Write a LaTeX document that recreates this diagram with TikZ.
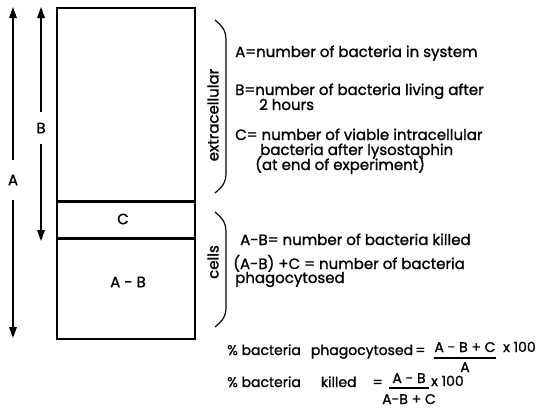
\documentclass[tikz,border=0pt]{standalone}
\usepackage{fontspec}
\setmainfont{Poppins}[FakeBold=1.2]
\usetikzlibrary{positioning,arrows.meta}
\tikzset{>={Triangle[length=11pt,width=7.5pt]}}

\begin{document}
\begin{tikzpicture}[
    x=1pt, y=-1pt,
    font=\fontsize{15}{17}\selectfont,
    compartment/.style={draw, line width=1.6pt, minimum width=138pt, inner sep=0pt},
    scalearrow/.style={->, line width=1.6pt},
    gaplabel/.style={inner sep=0pt, minimum width=12pt},
    bracket/.style={line width=1.2pt},
    sidelabel/.style={rotate=90, inner sep=0pt},
    defn/.style={anchor=base west, inner sep=0pt},
    formula/.style={anchor=base west, inner sep=0pt, font=\fontsize{14}{16}\selectfont},
    fracpart/.style={anchor=base, inner sep=0pt, font=\fontsize{14}{16}\selectfont},
    fracbar/.style={line width=1.3pt}
]
\useasboundingbox (0,0) rectangle (540,413);

% compartments of the system
\node[compartment, minimum height=193pt] (extra) at (126,104.5) {};
\node[compartment, minimum height=35pt, below=0pt of extra] (cbox) {};
\node[compartment, minimum height=100pt, below=0pt of cbox] (cellbox) {};
\node (clabel) at (123,219) {C};
\node (ablabel) at (128,282) {A - B};

% scales A and B
\coordinate (atop) at (13,7);
\coordinate (abot) at (13,338);
\node[gaplabel, minimum height=40pt] (alabel) at (13,180) {A};
\draw[scalearrow] (alabel) -- (atop);
\draw[scalearrow] (alabel) -- (abot);

\coordinate (btop) at (41,7);
\coordinate (bbot) at (41,241);
\node[gaplabel, minimum height=31pt] (blabel) at (41,128) {B};
\draw[scalearrow] (blabel) -- (btop);
\draw[scalearrow] (blabel) -- (bbot);

% brackets
\draw[bracket] (215,20) .. controls (222,26) and (226,30) .. (226,40) -- (226,173) .. controls (226,183) and (222,187) .. (215,193);
\draw[bracket] (215,212) .. controls (222,218) and (226,222) .. (226,232) -- (226,307) .. controls (226,317) and (222,321) .. (215,327);
\node[sidelabel] (extralabel) at (213,115) {extracellular};
\node[sidelabel] (celllabel) at (213,262) {cells};

% definitions
\node[defn] (adef) at (235,57) {A=number of bacteria in system};
\node[defn] (bdef) at (235,95) {B=number of bacteria living after};
\node[defn] (bdefb) at (259,110) {2 hours};
\node[defn] (cdef) at (235,140) {C= number of viable intracellular};
\node[defn] (cdefb) at (260,155) {bacteria after lysostaphin};
\node[defn] (cdefc) at (255,170) {(at end of experiment)};

\node[defn] (abdef) at (240,245) {A-B= number of bacteria killed};
\node[defn] (phdef) at (233,269) {(A-B) +C = number of bacteria};
\node[defn] (phdefb) at (235,283) {phagocytosed};

% percentages
\node[formula] (phtext) at (227,355) {\% bacteria\hspace{10pt}phagocytosed\,=};
\node[fracpart] (phnum) at (465,352) {A - B + C};
\node[fracpart] (phden) at (465,372) {A};
\draw[fracbar] (434,358) -- (496,358);
\node[formula] (phtimes) at (503,352) {x 100};

\node[formula] (kitext) at (227,387) {\% bacteria\hspace{20pt}killed\hspace{16pt}=};
\node[fracpart] (kinum) at (409,383) {A - B};
\node[fracpart] (kiden) at (409,404) {A-B + C};
\draw[fracbar] (389,388) -- (429,388);
\node[formula] (kitimes) at (431,386) {x 100};
\end{tikzpicture}
\end{document}
